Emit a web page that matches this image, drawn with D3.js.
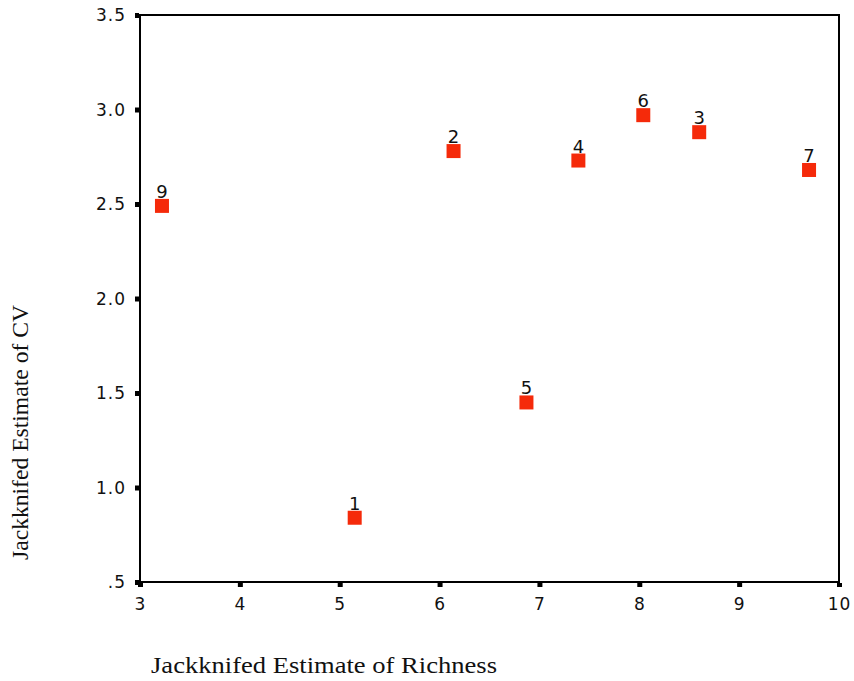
<!DOCTYPE html>
<html>
<head>
<meta charset="utf-8">
<script src="https://cdn.jsdelivr.net/npm/d3@7"></script>
<style>
  body { margin: 0; background: #fff; }
  svg { display: block; }
  .tick text { font-family: "DejaVu Sans", Verdana, sans-serif; font-size: 17px; letter-spacing: 1px; fill: #111; }
  .title { font-family: "Liberation Serif", "Times New Roman", serif; font-size: 24px; fill: #111; }
  .pt_label { font-family: "DejaVu Sans", Verdana, sans-serif; font-size: 18px; fill: #111; }
</style>
</head>
<body>
<svg id="chart" width="854" height="681"></svg>
<script>
"use strict";

// site labels and jackknifed estimates
var siteLabels = ["1", "2", "3", "4", "5", "6", "7", "9"];
var richness = [5.15, 6.14, 8.60, 7.39, 6.87, 8.04, 9.70, 3.22];
var cvValues = [0.84, 2.78, 2.88, 2.73, 1.45, 2.97, 2.68, 2.49];

var xTicks = [3, 4, 5, 6, 7, 8, 9, 10];
var yTicks = [0.5, 1.0, 1.5, 2.0, 2.5, 3.0, 3.5];
var yTickLabels = [".5", "1.0", "1.5", "2.0", "2.5", "3.0", "3.5"];

var svg = d3.select("#chart");

var plotLeft = 140, plotRight = 839, plotTop = 15, plotBottom = 582;

var x = d3.scaleLinear().domain([3, 10]).range([plotLeft, plotRight]);
var y = d3.scaleLinear().domain([0.5, 3.5]).range([plotBottom, plotTop]);

// frame
svg.append("rect")
  .attr("x", plotLeft)
  .attr("y", plotTop)
  .attr("width", plotRight - plotLeft)
  .attr("height", plotBottom - plotTop)
  .attr("fill", "none")
  .attr("stroke", "#000")
  .attr("stroke-width", 2);

var xAxis = d3.axisBottom(x)
  .tickValues(xTicks)
  .tickFormat(d3.format("d"))
  .tickSizeInner(4)
  .tickSizeOuter(0)
  .tickPadding(11);

var yAxis = d3.axisLeft(y)
  .tickValues(yTicks)
  .tickFormat(function(d, i){ return yTickLabels[i]; })
  .tickSizeInner(4)
  .tickSizeOuter(0)
  .tickPadding(9);

var xg = svg.append("g")
  .attr("transform", "translate(0," + (plotBottom + 1) + ")")
  .call(xAxis);

var yg = svg.append("g")
  .attr("transform", "translate(" + (plotLeft - 1) + ",0)")
  .call(yAxis);

[xg, yg].forEach(function(g){
  g.select(".domain").remove();
  g.selectAll(".tick line")
    .attr("stroke", "#000")
    .attr("stroke-width", 5);
});

yg.selectAll(".tick text").attr("dy", "0.35em");

// points
var points = siteLabels.map(function(lab, i){
  return { label: lab, x: richness[i], y: cvValues[i] };
});

var size = 14;

var nodes = svg.append("g")
  .selectAll(".pt_node")
  .data(points)
  .enter()
  .append("g")
  .attr("class", "pt_node");

nodes.append("rect")
  .attr("x", function(d){ return x(d.x) - size / 2; })
  .attr("y", function(d){ return y(d.y) - size / 2; })
  .attr("width", size)
  .attr("height", size)
  .attr("fill", "#f52a0a");

nodes.append("text")
  .attr("class", "pt_label")
  .attr("x", function(d){ return x(d.x); })
  .attr("y", function(d){ return y(d.y) - size / 2 - 1; })
  .attr("text-anchor", "middle")
  .text(function(d){ return d.label; });

// axis titles
svg.append("text")
  .attr("class", "title")
  .attr("x", 151)
  .attr("y", 673)
  .attr("textLength", 346)
  .attr("lengthAdjust", "spacingAndGlyphs")
  .text("Jackknifed Estimate of Richness");

svg.append("text")
  .attr("class", "title")
  .attr("transform", "translate(28,560) rotate(-90)")
  .attr("textLength", 255)
  .attr("lengthAdjust", "spacingAndGlyphs")
  .text("Jackknifed Estimate of CV");
</script>
</body>
</html>
